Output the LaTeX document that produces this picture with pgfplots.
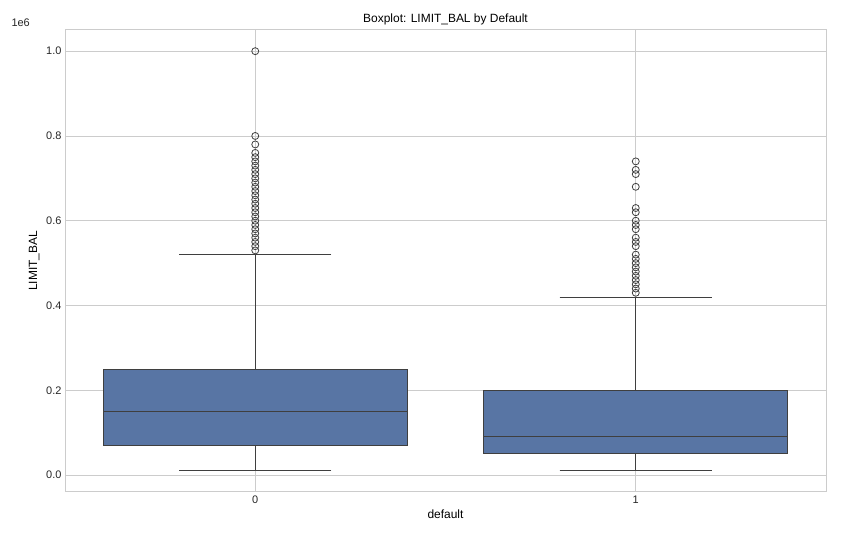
\documentclass[border=0pt]{standalone}
\usepackage{pgfplots}
\pgfplotsset{compat=1.18}
\usepgfplotslibrary{statistics}
\usepackage{fontspec}
\setmainfont{Liberation Sans}
\definecolor{boxc}{HTML}{5875A4}
\definecolor{edge}{HTML}{3F3F3F}
\definecolor{gridc}{HTML}{CCCCCC}
\begin{document}
\begin{tikzpicture}[x=1bp,y=1bp]
\path (0,0) rectangle (850,550);
\begin{axis}[at={(65bp,58bp)},anchor=south west,scale only axis,
 width=761bp,height=462bp,
 xmin=-0.5,xmax=1.5,ymin=-0.04,ymax=1.05,
 xtick={0,1},xticklabels={0,1},
 ytick={0,0.2,0.4,0.6,0.8,1.0},
 yticklabel style={/pgf/number format/fixed,/pgf/number format/fixed zerofill,/pgf/number format/precision=1},
 /pgf/number format/assume math mode=true,
 ymajorgrids,xmajorgrids,grid style={gridc,line width=0.8pt},
 axis line style={gridc,line width=1pt},
 major tick length=0pt,
 tick label style={font=\fontsize{11}{13}\selectfont,text=black!85},
 xlabel={default},ylabel={LIMIT\_BAL},
 label style={font=\fontsize{12}{14}\selectfont},
 title={Boxplot: LIMIT\_BAL by Default},
 title style={font=\fontsize{12}{14}\selectfont,yshift=-4bp},
 boxplot/draw direction=y,
 boxplot/box extend=0.8,
 boxplot/whisker extend=0.4,
]
\addplot+[boxplot prepared={draw position=0,lower whisker=0.01,lower quartile=0.07,median=0.15,upper quartile=0.25,upper whisker=0.52},
 fill=boxc,draw=edge,line width=1pt,solid,mark=none] coordinates {};
\addplot+[boxplot prepared={draw position=1,lower whisker=0.01,lower quartile=0.05,median=0.09,upper quartile=0.20,upper whisker=0.42},
 fill=boxc,draw=edge,line width=1pt,solid,mark=none] coordinates {};
\addplot[only marks,mark=o,mark size=3.5bp,draw=edge,line width=0.8pt] coordinates {
(0,1.0)(0,0.8)(0,0.78)(0,0.76)(0,0.75)(0,0.74)(0,0.73)(0,0.72)(0,0.71)(0,0.70)(0,0.69)(0,0.68)(0,0.67)(0,0.66)(0,0.65)(0,0.64)(0,0.63)(0,0.62)(0,0.61)(0,0.60)(0,0.59)(0,0.58)(0,0.57)(0,0.56)(0,0.55)(0,0.54)(0,0.53)
(1,0.74)(1,0.72)(1,0.71)(1,0.68)(1,0.63)(1,0.62)(1,0.60)(1,0.59)(1,0.58)(1,0.56)(1,0.55)(1,0.54)(1,0.52)(1,0.51)(1,0.50)(1,0.49)(1,0.48)(1,0.47)(1,0.46)(1,0.45)(1,0.44)(1,0.43)
};
\end{axis}
\node[anchor=south west,font=\fontsize{11}{13}\selectfont,text=black!85] at (8bp,520bp) {1e6};
\end{tikzpicture}
\end{document}
